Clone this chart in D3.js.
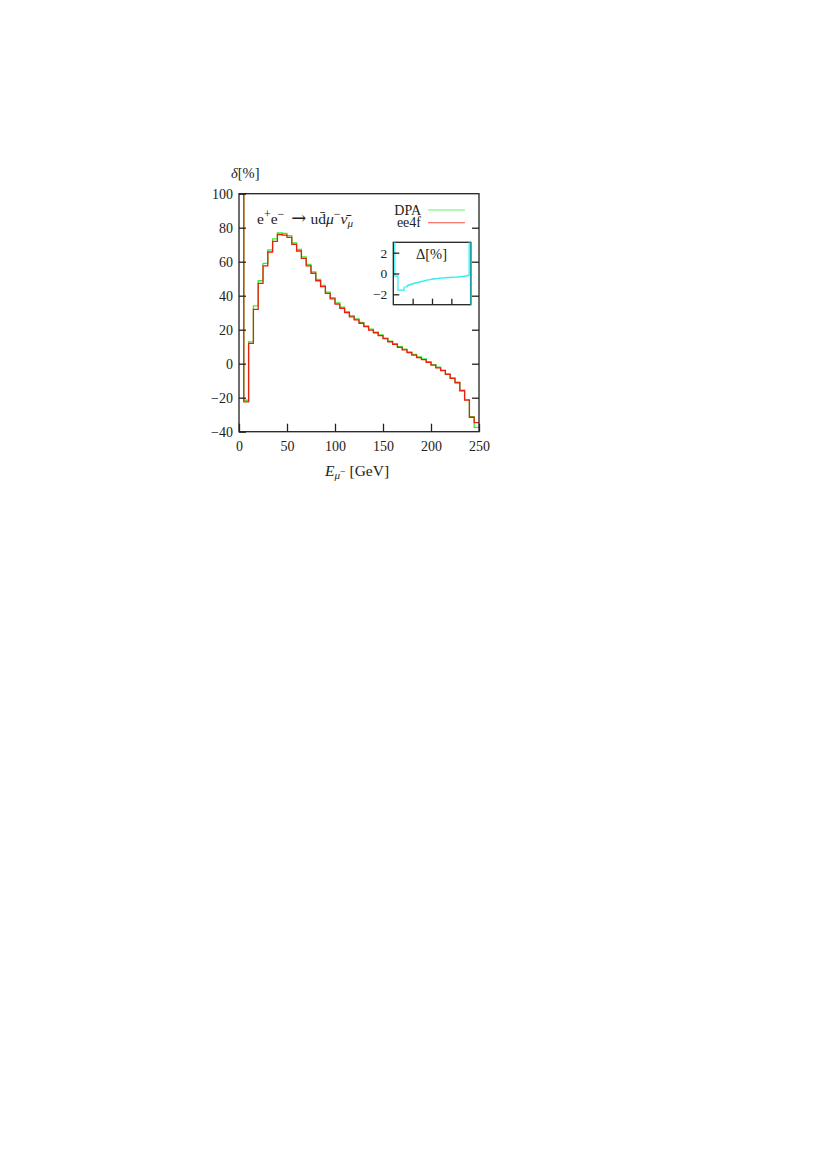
<!DOCTYPE html>
<html><head><meta charset="utf-8">
<script src="https://cdn.jsdelivr.net/npm/d3@7"></script>
<style>
body{margin:0;background:#fff;}
text{font-family:"Liberation Serif","DejaVu Serif",serif;fill:#222;}
</style></head>
<body><svg id="c" width="828" height="1170"></svg>
<script>
// bin lower edges (GeV), 5 GeV bins
const binLow = [0,5,10,15,20,25,30,35,40,45,50,55,60,65,70,75,80,85,90,95,100,105,110,115,120,125,130,135,140,145,150,155,160,165,170,175,180,185,190,195,200,205,210,215,220,225,230,235,240,245];
const binEnd = 250;
// delta [%] for ee4f (red)
const ee4f = [150,-22.5,12,32,47.3,57.5,65.7,72,76,75.6,74.3,70.2,66.3,62,57.6,53.2,48.8,45.3,41.4,38.1,35.1,32.6,30,27.6,25.8,23.8,21.8,19.8,18.2,16.5,14.7,12.9,11.4,9.6,8.1,6.5,5.1,3.6,2.4,0.8,-0.8,-2.4,-4.1,-6.3,-8.6,-11.2,-15.9,-21.4,-31.5,-34.7];
// delta [%] for DPA (green)
const dpa = [150,-21.5,12.8,34,48.8,59,67,73.4,77,76.6,75.3,71,67.2,62.8,58.4,54,49.6,46,42.1,38.8,35.7,33.2,30.6,28.2,26.3,24.3,22.3,20.3,18.6,16.9,15.1,13.3,11.8,10,8.5,6.9,5.5,4,2.8,1.2,-0.5,-2.1,-3.8,-6,-8.3,-10.9,-15.6,-21.1,-31.2,-37.5];
// inset: Delta [%]
const diff = [5,-0.25,-0.25,-1.6,-1.6,-1.6,-1.6,-1.3,-1.3,-1.15,-1.1,-1.05,-1.0,-0.95,-0.9,-0.87,-0.83,-0.8,-0.75,-0.72,-0.68,-0.65,-0.62,-0.6,-0.57,-0.55,-0.5,-0.52,-0.48,-0.47,-0.45,-0.44,-0.42,-0.43,-0.4,-0.38,-0.4,-0.37,-0.35,-0.36,-0.34,-0.35,-0.32,-0.3,-0.3,-0.28,-0.25,-0.22,-0.15,5];
const xTicks = [0,50,100,150,200,250];
const yTicks = [-40,-20,0,20,40,60,80,100];
const insetYTicks = [-2,0,2];
const insetXTicks = [62.5,125,187.5];

const svg = d3.select("#c");
const L=239, R=479, T=193.7, B=431.7;
const x = d3.scaleLinear().domain([0,250]).range([L,R]);
const y = d3.scaleLinear().domain([-40,100]).range([B,T]);

const defs = svg.append("defs");
defs.append("clipPath").attr("id","mclip").append("rect").attr("x",L).attr("y",T).attr("width",R-L).attr("height",B-T);

function stepPts(vals){ const p = binLow.map((b,i)=>[b,vals[i]]); p.push([binEnd, vals[vals.length-1]]); return p; }

const line = d3.line().x(d=>x(d[0])).y(d=>y(d[1])).curve(d3.curveStepAfter);
const g = svg.append("g").attr("clip-path","url(#mclip)");
g.append("path").attr("d",line(stepPts(dpa))).attr("fill","none").attr("stroke","#33ee33").attr("stroke-width",1.3);
g.append("path").attr("d",line(stepPts(ee4f))).attr("fill","none").attr("stroke","#e8200c").attr("stroke-width",1.3);

// frame
svg.append("rect").attr("x",L).attr("y",T).attr("width",R-L).attr("height",B-T).attr("fill","none").attr("stroke","#222").attr("stroke-width",1.3);

// left axis
const ya = svg.append("g").attr("transform",`translate(${L},0)`).call(d3.axisLeft(y).tickValues(yTicks).tickSize(-7).tickPadding(6).tickFormat(d=>String(d).replace("-","\u2212")));
ya.select(".domain").remove();
ya.selectAll("line").attr("stroke","#222").attr("stroke-width",1.3);
ya.selectAll("text").attr("font-size",14).attr("font-family","Liberation Serif").attr("fill","#222");
// right mirror ticks
const yr = svg.append("g").attr("transform",`translate(${R},0)`).call(d3.axisRight(y).tickValues(yTicks.filter(v=>v>-40&&v<100)).tickSize(-7).tickFormat(""));
yr.select(".domain").remove();
yr.selectAll("line").attr("stroke","#222").attr("stroke-width",1.3);
// bottom axis
const xa = svg.append("g").attr("transform",`translate(0,${B})`).call(d3.axisBottom(x).tickValues(xTicks).tickSize(-8).tickPadding(9).tickFormat(d=>d));
xa.select(".domain").remove();
xa.selectAll("line").attr("stroke","#222").attr("stroke-width",1.3);
xa.selectAll("text").attr("font-size",14).attr("font-family","Liberation Serif").attr("fill","#222");

// y label
const yl = svg.append("text").attr("x",231).attr("y",178).attr("font-size",14.5);
yl.append("tspan").attr("font-style","italic").text("δ");
yl.append("tspan").text("[%]");
// x label
const xl = svg.append("text").attr("x",325).attr("y",476).attr("font-size",15.5);
xl.append("tspan").attr("font-style","italic").text("E");
xl.append("tspan").attr("font-style","italic").attr("font-size",11).attr("dy",3).text("μ");
xl.append("tspan").attr("font-size",10).attr("dy",-4).text("−");
xl.append("tspan").attr("dy",1).text(" [GeV]");

// process title
const tt = svg.append("text").attr("x",257).attr("y",224).attr("font-size",15.5);
tt.append("tspan").text("e");
tt.append("tspan").attr("font-size",12).attr("dy",-6).text("+");
tt.append("tspan").attr("dy",6).text("e");
tt.append("tspan").attr("font-size",12).attr("dy",-6).text("−");
tt.append("tspan").attr("dy",6).attr("dx",7).attr("font-size",18).attr("font-family","DejaVu Serif").text("→");
tt.append("tspan").attr("dx",4).text("u");
tt.append("tspan").text("d\u0304");
tt.append("tspan").attr("font-style","italic").text("μ");
tt.append("tspan").attr("font-size",12).attr("dy",-6).text("−");
tt.append("tspan").attr("dy",6).attr("font-style","italic").text("ν\u0304");
tt.append("tspan").attr("font-size",11).attr("dy",3).attr("font-style","italic").text("μ");

// legend
const legend = [{name:"DPA",color:"#66f066",yy:210},{name:"ee4f",color:"#f25545",yy:222.7}];
legend.forEach(l=>{
  svg.append("text").attr("x",421).attr("y",l.yy+4.5).attr("text-anchor","end").attr("font-size",14).text(l.name);
  svg.append("line").attr("x1",428).attr("x2",465).attr("y1",l.yy).attr("y2",l.yy).attr("stroke",l.color).attr("stroke-width",1.1);
});

// inset
const iL=393.3, iR=470.7, iT=242.3, iB=304.7;
const xi = d3.scaleLinear().domain([0,250]).range([iL,iR]);
const yi = d3.scaleLinear().domain([-3,3]).range([iB,iT]);
defs.append("clipPath").attr("id","iclip").append("rect").attr("x",iL).attr("y",iT).attr("width",iR-iL).attr("height",iB-iT);
svg.append("rect").attr("x",iL).attr("y",iT).attr("width",iR-iL).attr("height",iB-iT).attr("fill","#fff");
const iline = d3.line().x(d=>xi(d[0])).y(d=>yi(d[1])).curve(d3.curveStepAfter);
svg.append("rect").attr("x",iL).attr("y",iT).attr("width",iR-iL).attr("height",iB-iT).attr("fill","none").attr("stroke","#222").attr("stroke-width",1.3);
svg.append("line").attr("x1",iR).attr("x2",iR).attr("y1",iT).attr("y2",iB).attr("stroke","#1f9f9f").attr("stroke-width",1.6);
const ig = svg.append("g").attr("clip-path","url(#iclip)");
ig.append("path").attr("d",iline(stepPts(diff))).attr("fill","none").attr("stroke","#2af0f0").attr("stroke-width",1.2);
const iya = svg.append("g").attr("transform",`translate(${iL},0)`).call(d3.axisLeft(yi).tickValues(insetYTicks).tickSize(-6).tickPadding(6).tickFormat(d=>String(d).replace("-","\u2212")));
iya.select(".domain").remove();
iya.selectAll("line").attr("stroke","#222").attr("stroke-width",1.3);
iya.selectAll("text").attr("font-size",13.5).attr("font-family","Liberation Serif").attr("fill","#222");
const ixa = svg.append("g").attr("transform",`translate(0,${iB})`).call(d3.axisBottom(xi).tickValues(insetXTicks).tickSize(-6).tickFormat(""));
ixa.select(".domain").remove();
ixa.selectAll("line").attr("stroke","#222").attr("stroke-width",1.3);
const il = svg.append("text").attr("x",431.5).attr("y",259).attr("text-anchor","middle").attr("font-size",14.5);
il.append("tspan").text("Δ[%]");
</script></body></html>
